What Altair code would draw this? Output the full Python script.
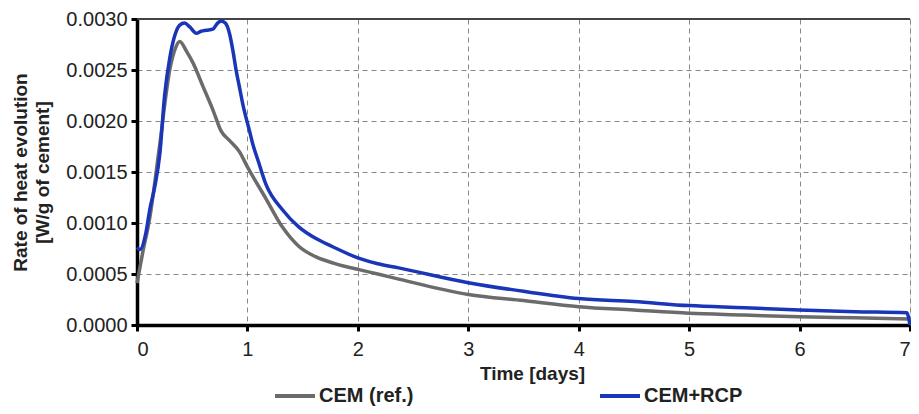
import altair as alt
import pandas as pd

# CEM (ref.) series
cem_days = [0.0, 0.05, 0.117, 0.2, 0.3, 0.35, 0.387, 0.45, 0.507, 0.597, 0.687, 0.762,
            0.837, 0.927, 1.0, 1.167, 1.317, 1.467, 1.617, 1.8, 2.02, 2.18, 2.37, 3.0,
            3.5, 4.0, 4.5, 5.0, 5.5, 6.0, 6.5, 6.99]
cem_rate = [0.00041, 0.00070, 0.00106, 0.00172, 0.00252, 0.00272, 0.00278, 0.00268,
            0.00257, 0.00234, 0.00211, 0.00190, 0.00181, 0.00170, 0.00155, 0.00124,
            0.00096, 0.00077, 0.00067, 0.00060, 0.00054, 0.00050, 0.00045, 0.00030,
            0.00024, 0.00018, 0.000147, 0.000115, 0.000098, 0.00008, 0.00007, 0.00006]

# CEM+RCP series
rcp_days = [0.0, 0.027, 0.08, 0.117, 0.16, 0.207, 0.25, 0.297, 0.34, 0.387, 0.43,
            0.48, 0.537, 0.58, 0.627, 0.687, 0.73, 0.762, 0.80, 0.837, 0.87, 0.897,
            0.93, 0.957, 1.017, 1.047, 1.1, 1.167, 1.317, 1.467, 1.617, 1.767, 2.02,
            2.18, 2.37, 3.0, 3.5, 4.0, 4.5, 5.0, 5.5, 6.0, 6.5, 6.97, 7.0]
rcp_rate = [0.00076, 0.00074, 0.00090, 0.00114, 0.00135, 0.00168, 0.00225, 0.00262,
            0.00283, 0.00294, 0.00296, 0.00292, 0.00286, 0.00288, 0.00289, 0.00290,
            0.00296, 0.00298, 0.00296, 0.00286, 0.00268, 0.00250, 0.00232, 0.00217,
            0.00191, 0.00178, 0.00160, 0.00138, 0.00113, 0.00096, 0.00085, 0.00077,
            0.00065, 0.00060, 0.00056, 0.000415, 0.00033, 0.00026, 0.00023, 0.00019,
            0.00017, 0.000147, 0.00013, 0.00012, 0.0]

series_names = ["CEM (ref.)", "CEM+RCP"]
series_colors = ["#6b6b6b", "#1a35b8"]
x_ticks = [0, 1, 2, 3, 4, 5, 6, 7]
y_ticks = [0.0, 0.0005, 0.0010, 0.0015, 0.0020, 0.0025, 0.0030]

df = pd.concat([
    pd.DataFrame({"day": cem_days, "rate": cem_rate, "series": series_names[0], "idx": range(len(cem_days))}),
    pd.DataFrame({"day": rcp_days, "rate": rcp_rate, "series": series_names[1], "idx": range(len(rcp_days))}),
], ignore_index=True)

FONT = "Liberation Sans"
W, H = 773, 306

lines = alt.Chart(df).mark_line(strokeWidth=3.5, interpolate="monotone").encode(
    x=alt.X("day:Q",
            scale=alt.Scale(domain=[0, 7], nice=False, zero=False),
            axis=alt.Axis(values=x_ticks, format="d", title="Time [days]",
                          titleFont=FONT, titleFontSize=19, titleFontWeight="bold",
                          titleColor="#222", titleX=395, titleY=39, titleBaseline="top",
                          titleAlign="center",
                          labelFont=FONT, labelFontSize=20, labelColor="#222",
                          labelPadding=8, tickSize=6, tickWidth=3, tickColor="#000",
                          domainColor="#000", domainWidth=3.5,
                          grid=True, gridDash=[5, 4], gridColor="#888", gridWidth=1)),
    y=alt.Y("rate:Q",
            scale=alt.Scale(domain=[0, 0.003], nice=False),
            axis=alt.Axis(values=y_ticks, format=".4f",
                          title=["Rate of heat evolution", "[W/g of cement]"],
                          titleFont=FONT, titleFontSize=19, titleFontWeight="bold",
                          titleColor="#222", titleLineHeight=22,
                          titleX=-107, titleY=H / 2, titleAngle=270,
                          titleBaseline="bottom", titleAlign="center",
                          labelFont=FONT, labelFontSize=20, labelColor="#222",
                          labelPadding=4, tickSize=6, tickWidth=3, tickColor="#000",
                          domainColor="#000", domainWidth=3.5,
                          grid=True, gridDash=[5, 4], gridColor="#888", gridWidth=1)),
    color=alt.Color("series:N",
                    scale=alt.Scale(domain=series_names, range=series_colors),
                    legend=alt.Legend(title=None, orient="none", direction="horizontal",
                                      legendX=136, legendY=355, columns=2,
                                      columnPadding=178, padding=0,
                                      symbolType="stroke", symbolSize=1600,
                                      symbolStrokeWidth=4, labelOffset=2,
                                      labelFont=FONT, labelFontSize=20,
                                      labelFontWeight="bold", labelColor="#222",
                                      labelLimit=300)),
    order=alt.Order("idx:Q"),
)

top_rule = alt.Chart(df).mark_rule(color="#444", strokeWidth=2).encode(
    x=alt.value(0), x2=alt.value(W), y=alt.value(0)
)

chart = alt.layer(top_rule, lines).properties(
    width=W, height=H,
    autosize=alt.AutoSizeParams(type="none"),
    padding={"left": 129, "top": 11, "right": 1, "bottom": 81},
).configure_view(stroke=None).configure(background="white")

chart.save("out.html", embed_options={"renderer": "svg", "actions": False})
